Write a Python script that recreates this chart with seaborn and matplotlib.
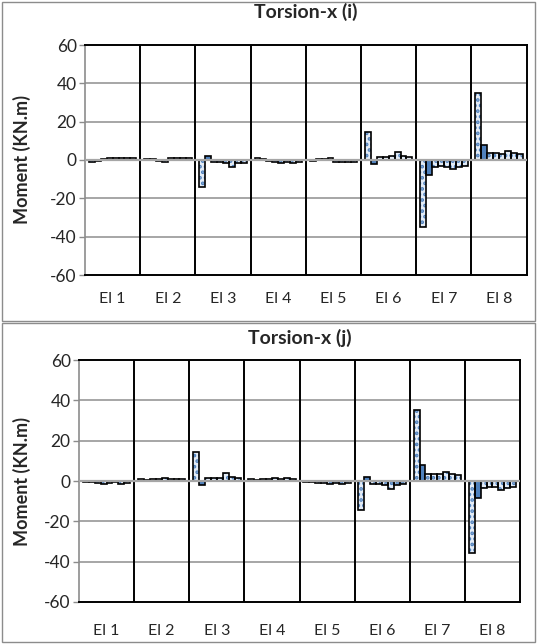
import matplotlib
matplotlib.use("Agg")
import numpy as np
import pandas as pd
import matplotlib.pyplot as plt
from matplotlib.patches import Rectangle
import seaborn as sns

# ── data (KN.m) ──────────────────────────────────────────────────────────────
ELEMENTS = ["El 1", "El 2", "El 3", "El 4", "El 5", "El 6", "El 7", "El 8"]
SERIES = ["Case 1", "Case 2", "Case 3", "Case 4",
          "Case 5", "Case 6", "Case 7", "Case 8"]

# one row per element, one value per series
TORSION_I = [
    [-0.8, -0.3, 0.5, 1.0, 1.0, 0.8, 1.2, 1.0],
    [0.5, 0.3, -0.5, -1.0, 0.8, 1.0, 0.8, 1.0],
    [-14.0, 2.0, -1.0, -1.0, -1.5, -3.5, -1.5, -1.5],
    [0.8, 0.5, -0.5, -1.0, -1.5, -1.2, -1.5, -1.0],
    [-0.5, 0.3, 0.5, 1.2, -0.8, -1.0, -1.0, -1.0],
    [14.5, -2.0, 1.5, 1.5, 2.0, 4.0, 2.0, 1.5],
    [-35.0, -8.0, -3.5, -3.0, -3.5, -4.5, -3.5, -3.0],
    [35.0, 8.0, 3.5, 3.5, 3.0, 4.5, 3.5, 3.0],
]
TORSION_J = [
    [-0.5, -0.3, -1.0, -1.5, -1.0, -0.5, -1.5, -1.0],
    [0.8, 0.5, 1.2, 1.0, 1.5, 1.0, 1.2, 1.0],
    [14.5, -2.0, 1.5, 1.5, 1.5, 4.0, 2.0, 1.5],
    [0.8, 0.5, 1.0, 1.0, 1.5, 1.2, 1.5, 1.0],
    [-0.5, -0.5, -1.0, -1.0, -1.5, -1.0, -1.5, -1.0],
    [-14.5, 2.0, -1.5, -1.5, -2.0, -4.0, -2.0, -1.5],
    [35.0, 8.0, 3.5, 3.5, 3.5, 4.5, 3.5, 3.0],
    [-35.5, -8.5, -3.5, -3.0, -3.0, -4.5, -3.5, -3.0],
]
Y_TICKS = [-60, -40, -20, 0, 20, 40, 60]

BLUE = "#4F81BD"
PALE = "#E4ECF6"
GRID = "#A6A6A6"
FRAME = "#8C8C8C"

sns.set_theme(style="white")
plt.rcParams["font.family"] = ["Lato", "DejaVu Sans"]
plt.rcParams["hatch.linewidth"] = 1.8
plt.rcParams["axes.unicode_minus"] = False


def to_long(values):
    rows = []
    for el, row in zip(ELEMENTS, values):
        for s, v in zip(SERIES, row):
            rows.append((el, s, v))
    return pd.DataFrame(rows, columns=["Element", "Series", "Moment"])


def draw_panel(ax, values, xpad):
    df = to_long(values)
    palette = {s: PALE for s in SERIES}
    palette["Case 2"] = BLUE
    sns.barplot(data=df, x="Element", y="Moment", hue="Series",
                order=ELEMENTS, hue_order=SERIES, palette=palette,
                width=0.86, errorbar=None, saturation=1, legend=False,
                edgecolor="black", linewidth=1.2, zorder=3, ax=ax)

    # dotted fill for every series except the solid blue one
    for s, cont in zip(SERIES, ax.containers):
        if s == "Case 2":
            continue
        for bar in cont:
            bar.set_hatch("...")
            bar.set_edgecolor(BLUE)
            bar.set_linewidth(0)
            ax.add_patch(Rectangle(bar.get_xy(), bar.get_width(),
                                   bar.get_height(), fill=False,
                                   edgecolor="black", linewidth=1.2,
                                   zorder=4))

    ax.set_xlim(-0.5, len(ELEMENTS) - 0.5)
    ax.set_ylim(-60, 60)
    ax.set_yticks(Y_TICKS)
    ax.set_xlabel("")
    ax.set_ylabel("")

    for y in Y_TICKS[1:-1]:
        ax.axhline(y, color=GRID, lw=1.4, zorder=1)
    ax.axhline(0, color=GRID, lw=1.6, zorder=5)
    for b in np.arange(0.5, len(ELEMENTS) - 0.5):
        ax.axvline(b, color="black", lw=1.4, zorder=1)

    for side in ["top", "right", "bottom"]:
        ax.spines[side].set_color("black")
        ax.spines[side].set_linewidth(1.4)
    ax.spines["left"].set_color(FRAME)
    ax.spines["left"].set_linewidth(1.2)

    ax.tick_params(axis="y", direction="out", length=4, width=1,
                   color=FRAME, labelsize=12.5, pad=2, left=True)
    ax.tick_params(axis="x", length=0, labelsize=11.5, pad=xpad)


fig = plt.figure(figsize=(5.38, 6.44), dpi=100)

ax1 = fig.add_axes([85 / 538, 1 - 275 / 644, 441.7 / 538, 230 / 644])
draw_panel(ax1, TORSION_I, 12.5)
ax2 = fig.add_axes([79 / 538, 1 - 602 / 644, 441 / 538, 242 / 644])
draw_panel(ax2, TORSION_J, 16)

fig.text(306 / 538, 1 - 12 / 644, "Torsion-x (i)", ha="center", va="center",
         fontsize=14, fontweight="bold")
fig.text(300 / 538, 1 - 338 / 644, "Torsion-x (j)", ha="center", va="center",
         fontsize=14, fontweight="bold")
fig.text(22 / 538, 1 - 160 / 644, "Moment (KN.m)", rotation=90,
         ha="center", va="center", fontsize=13, fontweight="bold")
fig.text(22 / 538, 1 - 481 / 644, "Moment (KN.m)", rotation=90,
         ha="center", va="center", fontsize=13, fontweight="bold")

# chart-area borders around each panel
for y0, y1 in [(2, 321), (323, 642)]:
    fig.add_artist(Rectangle((2 / 538, 1 - y1 / 644), 533 / 538,
                             (y1 - y0) / 644, transform=fig.transFigure,
                             fill=False, edgecolor=FRAME, linewidth=1))

fig.savefig("out.png", dpi=100)
